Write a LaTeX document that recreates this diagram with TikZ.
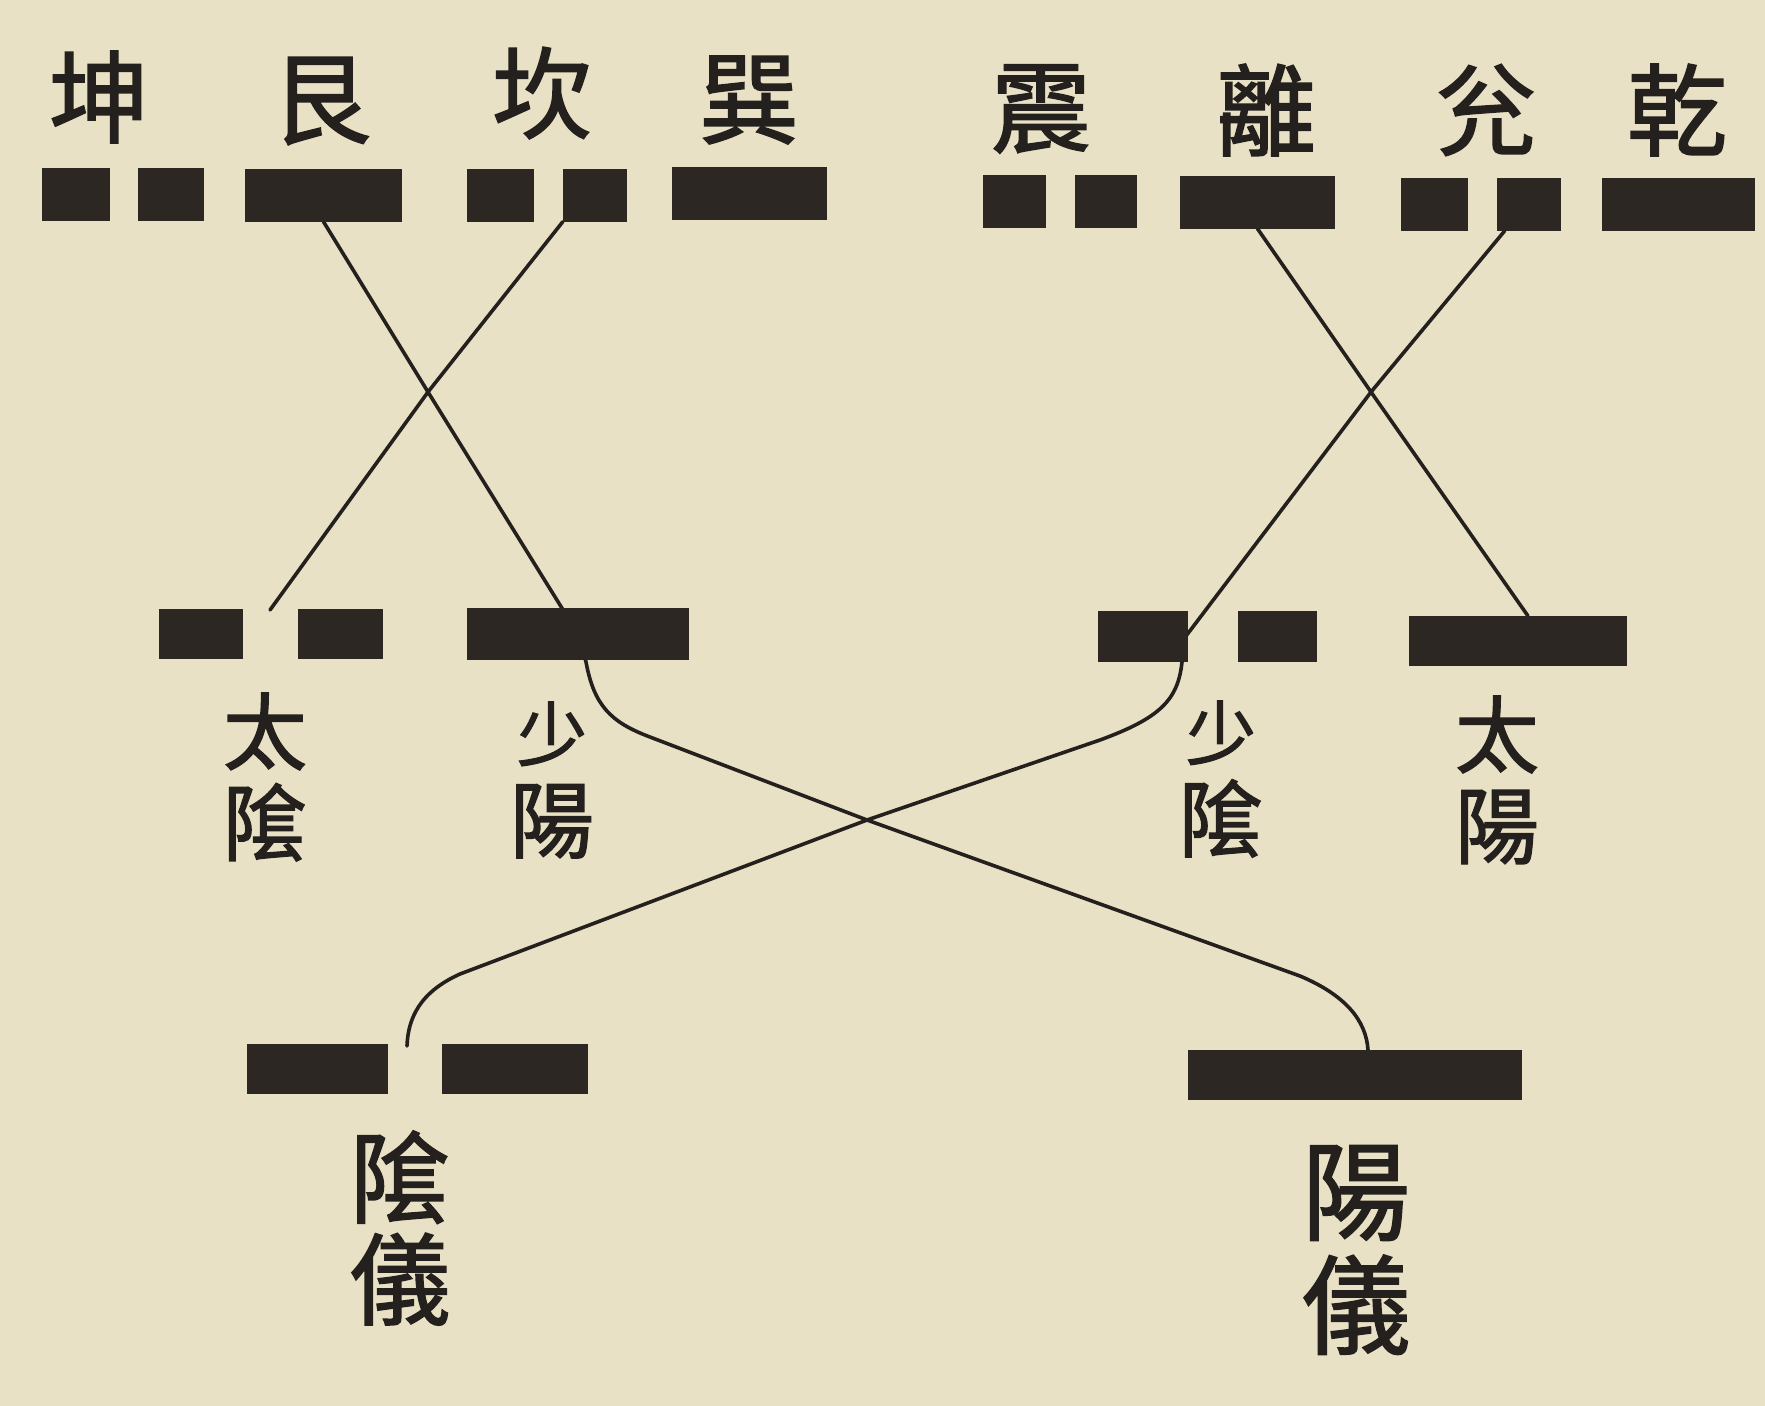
\documentclass[tikz,border=0pt]{standalone}
\usepackage{fontspec}
\newfontfamily\cjk{Noto Sans CJK TC}[FakeBold=1.6]
\usetikzlibrary{backgrounds,calc}
\definecolor{paper}{RGB}{233,225,197}
\definecolor{ink}{RGB}{36,32,29}
\definecolor{barc}{RGB}{44,39,35}
\begin{document}
\begin{tikzpicture}[x=1pt,y=-1pt,
  bar/.style={rectangle, fill=barc, draw=none, inner sep=0pt, minimum height=53},
  toplab/.style={inner sep=0pt, text=ink, font=\cjk\fontsize{100}{100}\selectfont},
  midlab/.style={inner sep=0pt, text=ink, align=center, font=\cjk\fontsize{84}{91}\selectfont},
  botlab/.style={inner sep=0pt, text=ink, align=center, font=\cjk\fontsize{100}{102}\selectfont},
  biglab/.style={inner sep=0pt, text=ink, align=center, font=\cjk\fontsize{108}{114}\selectfont},
  link/.style={draw=ink, line width=3.6pt, line join=round, line cap=round}]
\useasboundingbox (0,0) rectangle (1765,1406);

% ---- top row: eight trigram lines ----
\node[bar, minimum width=68] (kunL) at (76,194) {};
\node[bar, minimum width=66] (kunR) at (171,194) {};
\node[bar, minimum width=157] (gen) at (323.5,195) {};
\node[bar, minimum width=67] (kanL) at (500.5,195) {};
\node[bar, minimum width=64] (kanR) at (595,195) {};
\node[bar, minimum width=155] (xun) at (749.5,193) {};
\node[bar, minimum width=63] (zhenL) at (1014.5,201) {};
\node[bar, minimum width=62] (zhenR) at (1106,201) {};
\node[bar, minimum width=155] (li) at (1257.5,202) {};
\node[bar, minimum width=67] (duiL) at (1434.5,204) {};
\node[bar, minimum width=64] (duiR) at (1529,204) {};
\node[bar, minimum width=153] (qian) at (1678.5,204) {};

\node[toplab] (tkun) at (99,97) {坤};
\node[toplab] (tgen) at (321,101) {艮};
\node[toplab] (tkan) at (542,93) {坎};
\node[toplab] (txun) at (749,100) {巽};
\node[toplab] (tzhen) at (1041,109) {震};
\node[toplab] (tli) at (1266,110) {離};
\node[toplab] (tdui) at (1486,110) {兊};
\node[toplab] (tqian) at (1677,110) {乾};

% ---- middle row: four images ----
\node[bar, minimum width=84, minimum height=50] (taiyinL) at (201,634) {};
\node[bar, minimum width=85, minimum height=50] (taiyinR) at (340.5,634) {};
\node[bar, minimum width=222, minimum height=52] (shaoyang) at (578,634) {};
\node[bar, minimum width=90, minimum height=51] (shaoyinL) at (1143,636) {};
\node[bar, minimum width=79, minimum height=51] (shaoyinR) at (1277.5,636) {};
\node[bar, minimum width=218, minimum height=50] (taiyang) at (1518,641) {};

\node[midlab] (ltaiyin) at (265,777) {太\\隂};
\node[midlab] (lshaoyang) at (552,780) {{\fontsize{70}{70}\selectfont 少}\\陽};
\node[midlab] (lshaoyin) at (1221,779) {{\fontsize{70}{70}\selectfont 少}\\隂};
\node[midlab] (ltaiyang) at (1497,780) {太\\陽};

% ---- bottom row: two modes ----
\node[bar, minimum width=141, minimum height=50] (yinyiL) at (317.5,1069) {};
\node[bar, minimum width=146, minimum height=50] (yinyiR) at (515,1069) {};
\node[bar, minimum width=334, minimum height=50] (yangyi) at (1355,1075) {};

\node[botlab] (lyinyi) at (400,1228) {隂\\儀};
\node[biglab] (lyangyi) at (1356,1250) {陽\\儀};

% ---- crossing points and bends ----
\coordinate (c1) at (428,392);
\coordinate (c2) at (1371,392);
\coordinate (c3) at (867,820);
\coordinate (tyg) at (270,610);
\coordinate (syin) at (578,634);
\coordinate (syout) at (586,662);
\coordinate (syg) at (1186,636);
\coordinate (sgout) at (1182,662);
\coordinate (tyt) at (1528,616);
\coordinate (yig) at (407,1046);

\begin{scope}[on background layer]
  \fill[paper] (0,0) rectangle (1765,1406);
  % left pair
  \draw[link] (gen.south) -- (c1) -- (syin) -- (syout)
     .. controls (594,705) and (610,722) .. (650,737) -- (c3) -- (1300,976)
     .. controls (1345,995) and (1366,1020) .. ($(yangyi.north)+(13,0)$);
  \draw[link] (kanR.south west) -- (c1) -- (tyg);
  % right pair
  \draw[link] (li.south) -- (c2) -- (tyt);
  \draw[link] ($(duiR.south west)+(8,0)$) -- (c2) -- (syg) -- (sgout)
     .. controls (1178,700) and (1160,718) .. (1100,740) -- (c3) -- (460,974)
     .. controls (420,992) and (408,1018) .. (yig);
\end{scope}
\end{tikzpicture}
\end{document}
